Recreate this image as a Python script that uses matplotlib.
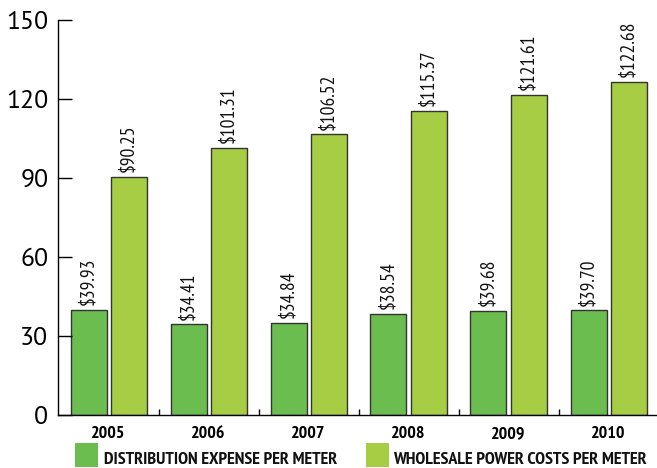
import matplotlib
matplotlib.use("Agg")
import matplotlib.pyplot as plt
from matplotlib.patches import Rectangle
import numpy as np

years = ["2005", "2006", "2007", "2008", "2009", "2010"]
distribution = [39.93, 34.41, 34.84, 38.54, 39.68, 39.70]
wholesale = [90.25, 101.31, 106.52, 115.37, 121.61, 126.4]
dist_labels = ["$39.93", "$34.41", "$34.84", "$38.54", "$39.68", "$39.70"]
whole_labels = ["$90.25", "$101.31", "$106.52", "$115.37", "$121.61", "$122.68"]
yticks = [0, 30, 60, 90, 120, 150]
series_names = ["DISTRIBUTION EXPENSE PER METER", "WHOLESALE POWER COSTS PER METER"]

c_dist = "#6cbd4f"
c_whole = "#a6cd43"
edge = "#333333"
narrow = ["PT Sans Narrow", "Fira Sans Condensed", "DejaVu Sans"]
regular = ["PT Sans", "Noto Sans", "DejaVu Sans"]

W, H = 657, 468
fig = plt.figure(figsize=(W/100, H/100), dpi=100)
ax = fig.add_axes([58/W, 1-415/H, 1-58/W, (415-20)/H])

x = np.arange(len(years))
w = 0.36
gap = 0.04
b1 = ax.bar(x - (w+gap)/2, distribution, w, color=c_dist, edgecolor=edge, linewidth=1.0)
b2 = ax.bar(x + (w+gap)/2, wholesale, w, color=c_whole, edgecolor=edge, linewidth=1.0)

for rects, labs in ((b1, dist_labels), (b2, whole_labels)):
    for r, lab in zip(rects, labs):
        ax.annotate(lab, (r.get_x() + r.get_width()/2, r.get_height()),
                    xytext=(0, 3.5), textcoords="offset points",
                    rotation=90, ha="center", va="bottom",
                    fontsize=14, family=narrow, color="#111111")

ax.set_ylim(0, 150)
ax.set_xlim(-0.505, 5.485)
ax.set_yticks(yticks)
ax.set_yticklabels([str(t) for t in yticks], fontsize=18.5, family=regular)
ax.tick_params(axis="y", direction="in", length=10, width=1, pad=7)
ax.set_xticks(x)
ax.set_xticklabels(years, fontsize=13, fontweight="bold", family=narrow)
ax.tick_params(axis="x", which="major", length=0, pad=8)
ax.set_xticks(x[:-1] + 0.5, minor=True)
ax.tick_params(axis="x", which="minor", direction="in", length=4.5, width=1)
for s in ("top", "right"):
    ax.spines[s].set_visible(False)
for s in ("left", "bottom"):
    ax.spines[s].set_linewidth(1.0)

# legend (manual, figure pixel layout)
for (sx, tx), col, name in zip(((75, 104), (366, 393)), (c_dist, c_whole), series_names):
    fig.patches.append(Rectangle((sx/W, 1-467/H), 23/W, 24/H, transform=fig.transFigure,
                                 facecolor=col, edgecolor="none"))
    fig.text(tx/W, 1-463.5/H, name, family=narrow, fontweight="bold", fontsize=13,
             va="baseline", ha="left", color="#111111")

fig.savefig("out.png", dpi=100)
